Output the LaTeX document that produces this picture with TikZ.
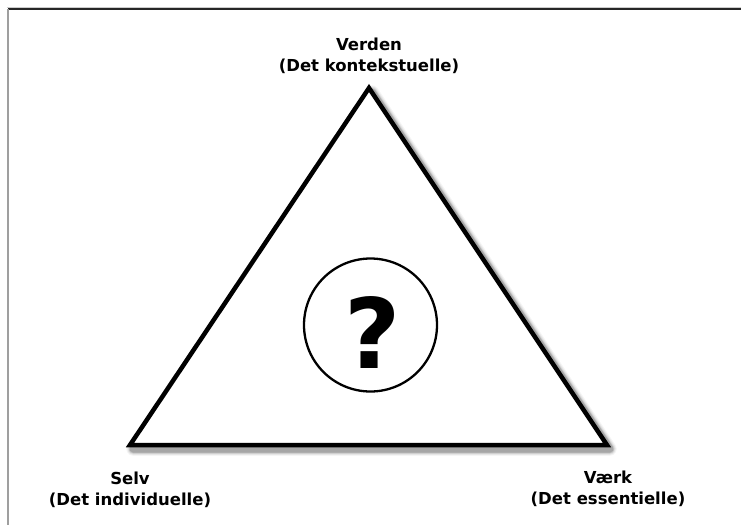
\documentclass[tikz,border=0pt]{standalone}
\usepackage{fontspec}
\setmainfont{DejaVu Sans}
\begin{document}
\begin{tikzpicture}[x=1pt,y=-1pt,
  lbl/.style={font=\bfseries\fontsize{16.5}{21}\selectfont, align=center, inner sep=0pt},
  tri/.style={line width=4.5pt, line join=miter, draw=black}]
\useasboundingbox (0,0) rectangle (741,525);
\fill[white] (0,0) rectangle (741,525);
% frame (top and left edges)
\draw[gray!40, line width=1pt] (7,7.5) -- (741,7.5);
\draw[black!85, line width=2pt] (8,9) -- (741,9);
\draw[gray!75, line width=2pt] (8,9) -- (8,525);
% corners
\coordinate (A) at (369,88);
\coordinate (B) at (130,445);
\coordinate (C) at (607,445);
% shadow
\foreach \d/\o in {9/0.04,7/0.06,5/0.08,3.5/0.10,2.5/0.12}{
  \draw[black, opacity=\o, line width=4.5pt+\d pt, line join=round]
    ([shift={(3,4)}]A) -- ([shift={(3,4)}]B) -- ([shift={(3,4)}]C) -- cycle;
}
\fill[white] (A) -- (B) -- (C) -- cycle;
\draw[tri] (A) -- (B) -- (C) -- cycle;
% centre
\node[circle, draw=black, line width=2.3pt, minimum size=133pt, inner sep=0pt] (q) at (370.5,325) {};
\node[font=\bfseries\fontsize{97}{97}\selectfont, inner sep=0pt] (qm) at (373,332) {?};
% labels
\node[lbl] (verden) at (369,56) {Verden\\(Det kontekstuelle)};
\node[lbl] (selv) at (130,490) {Selv\\(Det individuelle)};
\node[lbl] (vaerk) at (608,489) {Værk\\(Det essentielle)};
\end{tikzpicture}
\end{document}
